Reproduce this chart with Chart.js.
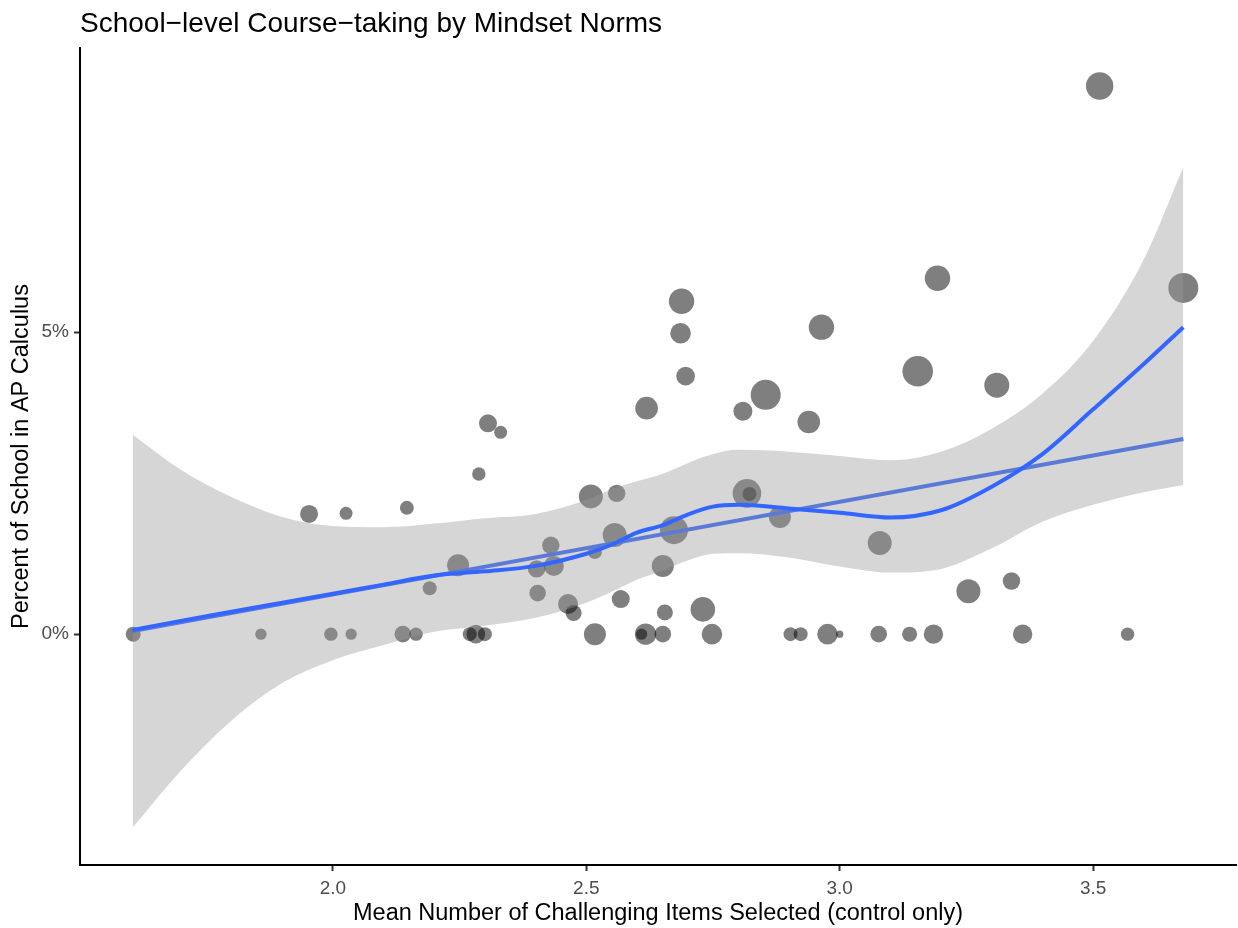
<!DOCTYPE html>
<html>
<head>
<meta charset="utf-8">
<script src="https://cdn.jsdelivr.net/npm/chart.js@4/dist/chart.umd.min.js"></script>
<style>
  html,body{margin:0;padding:0;background:#fff;}
  #wrap{width:1238px;height:928px;position:relative;}
</style>
</head>
<body>
<div id="wrap"><canvas id="chart" width="1238" height="928"></canvas></div>
<script>
// ---- data ----
// schools: mean challenging items (x), % in AP calculus (y), school size
const schoolX = [1.606,1.858,1.996,2.036,2.138,2.164,2.270,2.282,2.300,2.517,2.609,2.617,2.651,2.748,2.903,2.923,2.976,3.000,3.077,3.138,3.185,3.361,3.568,
  1.953,2.026,2.146,2.191,2.247,2.288,2.306,2.331,2.402,2.404,2.430,2.436,2.464,2.475,2.509,2.517,2.560,2.556,2.568,2.619,2.651,2.655,2.673,2.688,2.686,2.696,
  2.730,2.809,2.854,2.817,2.822,2.882,2.939,2.964,3.079,3.154,3.193,3.254,3.310,3.339,3.513,3.678];
const schoolY = [0,0,0,0,0,0,0,0,0,0,0,0,0,0,0,0,0,0,0,0,0,0,0,
  1.99,2.00,2.09,0.76,1.14,2.65,3.49,3.34,1.08,0.68,1.47,1.13,0.50,0.35,2.28,1.36,2.33,1.64,0.58,3.74,1.13,0.36,1.72,5.51,4.98,4.27,
  0.41,3.69,3.96,2.33,2.32,1.94,3.51,5.08,1.51,4.35,5.89,0.71,4.12,0.88,9.07,5.73];
const schoolSize = [560,325,450,325,690,450,490,865,490,1210,325,1145,690,1060,490,490,1060,137,690,560,940,940,450,
  810,420,490,490,1210,450,810,420,760,690,760,1000,1000,640,1440,490,760,1440,810,1280,1210,640,1960,1610,1060,865,
  1510,900,2250,2045,490,1210,1280,1610,1440,2340,1610,1440,1560,760,1880,2250];

// linear fit (ends of the straight line)
const lmX = [1.605, 3.678];
const lmY = [0.05, 3.23];

// loess curve and its confidence band
const smoothX  = [1.605,1.7,1.8,1.9,2.0,2.1,2.2,2.3,2.4,2.5,2.55,2.6,2.65,2.7,2.75,2.8,2.9,3.0,3.1,3.2,3.3,3.4,3.5,3.6,3.678];
const smoothY  = [0.07,0.22,0.37,0.52,0.67,0.82,0.97,1.04,1.13,1.33,1.48,1.68,1.80,1.98,2.11,2.14,2.08,2.01,1.93,2.05,2.44,2.98,3.72,4.47,5.08];
const smoothHi = [3.30,2.72,2.27,1.94,1.79,1.77,1.83,1.92,1.99,2.22,2.40,2.53,2.65,2.83,2.98,3.05,3.02,2.95,2.88,3.02,3.40,3.98,4.85,6.20,7.73];
const smoothLo = [-3.20,-2.26,-1.43,-0.81,-0.43,-0.18,0.04,0.14,0.27,0.52,0.70,0.90,1.05,1.22,1.33,1.34,1.27,1.12,1.02,1.08,1.42,1.86,2.14,2.35,2.47];

const xTicks = [2.0, 2.5, 3.0, 3.5];
const yTicks = [0, 5];

const FONT = '"Liberation Sans", Arial, Helvetica, sans-serif';
const BLUE = '#3366FF';

const pts = schoolX.map((x,i)=>({x, y: schoolY[i]}));
const line = (xs, ys) => xs.map((x,i)=>({x, y: ys[i]}));
const radius = n => Math.sqrt(n/10);

const titlePlugin = {
  id:'plotTitle',
  afterDraw(chart){
    const {ctx, chartArea} = chart;
    ctx.save();
    ctx.font = '28px ' + FONT;
    ctx.fillStyle = '#000';
    ctx.textAlign = 'left';
    ctx.textBaseline = 'alphabetic';
    ctx.fillText('School\u2212level Course\u2212taking by Mindset Norms', chartArea.left, 32);
    ctx.restore();
  }
};

new Chart(document.getElementById('chart'), {
  type:'scatter',
  data:{
    datasets:[
      { type:'line', label:'loess', data: line(smoothX, smoothY), borderColor: BLUE, borderWidth:4,
        pointRadius:0, fill:false, cubicInterpolationMode:'monotone', order:1 },
      { type:'line', label:'band hi', data: line(smoothX, smoothHi), borderWidth:0, borderColor:'rgba(0,0,0,0)',
        pointRadius:0, fill:'+1', backgroundColor:'rgba(153,153,153,0.4)', cubicInterpolationMode:'monotone', order:2 },
      { type:'line', label:'band lo', data: line(smoothX, smoothLo), borderWidth:0, borderColor:'rgba(0,0,0,0)',
        pointRadius:0, fill:false, cubicInterpolationMode:'monotone', order:3 },
      { type:'line', label:'lm', data: line(lmX, lmY), borderColor: BLUE, borderWidth:4,
        pointRadius:0, fill:false, order:4 },
      { type:'scatter', label:'schools', data: pts, backgroundColor:'rgba(0,0,0,0.5)', borderWidth:0,
        pointRadius: ctx => radius(schoolSize[ctx.dataIndex]), order:5 }
    ]
  },
  options:{
    responsive:false, animation:false,
    layout:{ autoPadding:false, padding:{ top:48, right:2, left:0, bottom:0 } },
    plugins:{ legend:{display:false}, tooltip:{enabled:false}, title:{display:false} },
    scales:{
      x:{
        type:'linear', min:1.501, max:3.782,
        afterBuildTicks: s => { s.ticks = xTicks.map(v=>({value:v})); },
        afterFit: s => { s.height = 63; },
        border:{ display:true, color:'#000', width:2 },
        grid:{ display:true, drawOnChartArea:false, drawTicks:true, tickLength:6, tickColor:'#333', tickWidth:2 },
        ticks:{ color:'#4D4D4D', font:{ family:FONT, size:19 }, padding:6, callback: v => Number(v).toFixed(1) },
        title:{ display:true, text:'Mean Number of Challenging Items Selected (control only)', color:'#000',
          font:{ family:FONT, size:23.5 }, padding:{ top:0, bottom:0 } }
      },
      y:{
        type:'linear', min:-3.82, max:9.70,
        afterBuildTicks: s => { s.ticks = yTicks.map(v=>({value:v})); },
        afterFit: s => { s.width = 80; },
        border:{ display:true, color:'#000', width:2 },
        grid:{ display:true, drawOnChartArea:false, drawTicks:true, tickLength:6, tickColor:'#333', tickWidth:2 },
        ticks:{ color:'#4D4D4D', font:{ family:FONT, size:19 }, padding:5, callback: v => v + '%' },
        title:{ display:true, text:'Percent of School in AP Calculus', color:'#000',
          font:{ family:FONT, size:23.5 }, padding:{ top:7, bottom:0 } }
      }
    }
  },
  plugins:[titlePlugin]
});
</script>
</body>
</html>
